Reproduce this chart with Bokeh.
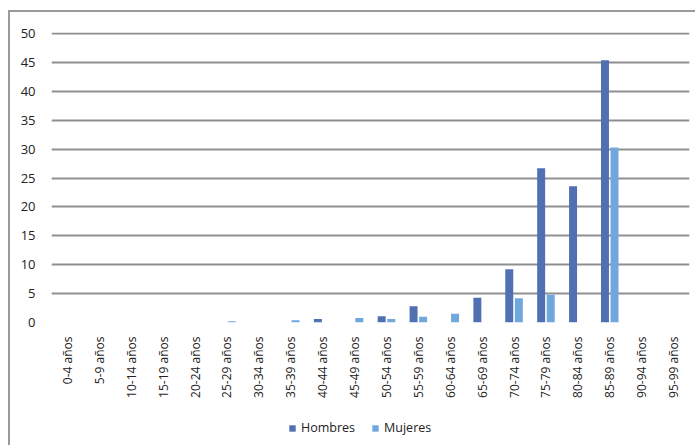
from bokeh.plotting import figure
from bokeh.models import ColumnDataSource, FactorRange, Range1d, Legend, LegendItem, FixedTicker
from bokeh.transform import dodge
from bokeh.layouts import column
from bokeh.embed import file_html
from bokeh.resources import INLINE

categories = ["0-4 años", "5-9 años", "10-14 años", "15-19 años", "20-24 años",
              "25-29 años", "30-34 años", "35-39 años", "40-44 años", "45-49 años",
              "50-54 años", "55-59 años", "60-64 años", "65-69 años", "70-74 años",
              "75-79 años", "80-84 años", "85-89 años", "90-94 años", "95-99 años"]
hombres = [0, 0, 0, 0, 0, 0, 0, 0, 0.6, 0, 1.1, 2.8, 0, 4.3, 9.2, 26.7, 23.6, 45.4, 0, 0]
mujeres = [0, 0, 0, 0, 0, 0.2, 0, 0.4, 0, 0.8, 0.6, 1.0, 1.5, 0, 4.2, 4.8, 0, 30.3, 0, 0]
y_ticks = [0, 5, 10, 15, 20, 25, 30, 35, 40, 45, 50]
series_names = ["Hombres", "Mujeres"]

FONT = "Open Sans"
C_H = "#5070B2"
C_M = "#70A8DE"

src = ColumnDataSource(dict(cat=categories, h=hombres, m=mujeres))

p = figure(x_range=FactorRange(*categories), y_range=Range1d(0, 50.2),
           width=685, height=388, output_backend="svg", toolbar_location=None,
           min_border_left=41, min_border_right=6, min_border_top=20, min_border_bottom=77)

p.vbar(x=dodge("cat", -0.15, range=p.x_range), top="h", width=0.25, source=src,
       color=C_H, line_color=None)
p.vbar(x=dodge("cat", 0.15, range=p.x_range), top="m", width=0.25, source=src,
       color=C_M, line_color=None)

p.outline_line_color = None
p.xgrid.grid_line_color = None
p.ygrid.grid_line_color = "#8f8f8f"
p.ygrid.grid_line_width = 2
p.yaxis.ticker = FixedTicker(ticks=y_ticks)
p.yaxis.axis_line_color = None
p.yaxis.major_tick_line_color = None
p.yaxis.minor_tick_line_color = None
p.yaxis.major_label_text_font = FONT
p.yaxis.major_label_text_font_size = "13px"
p.yaxis.major_label_text_color = "#222222"
p.yaxis.major_label_standoff = 10

p.xaxis.axis_line_color = None
p.xaxis.major_tick_line_color = None
p.xaxis.major_label_orientation = 3.14159265 / 2
p.xaxis.major_label_text_font = FONT
p.xaxis.major_label_text_font_size = "12px"
p.xaxis.major_label_text_color = "#222222"
p.xaxis.major_label_standoff = 8

# legend strip below the chart (zero-height proxy bars carry the legend swatches)
p2 = figure(x_range=FactorRange(*categories), y_range=Range1d(0, 1), width=685, height=45,
            output_backend="svg", toolbar_location=None,
            min_border_left=0, min_border_right=0, min_border_top=0, min_border_bottom=0)
p2.axis.visible = False
p2.grid.grid_line_color = None
p2.outline_line_color = None
proxy = ColumnDataSource(dict(cat=categories[:1], zero=[0]))
lh = p2.vbar(x="cat", top="zero", width=0.25, source=proxy, color=C_H, line_color=None)
lm = p2.vbar(x="cat", top="zero", width=0.25, source=proxy, color=C_M, line_color=None)
legend = Legend(items=[LegendItem(label=series_names[0], renderers=[lh]),
                       LegendItem(label=series_names[1], renderers=[lm])],
                orientation="horizontal", location=(237, 9),
                label_text_font=FONT, label_text_font_size="12.5px", label_text_color="#222222",
                glyph_width=8, glyph_height=8, spacing=16, label_standoff=5,
                border_line_color=None, background_fill_alpha=0, padding=0, margin=0)
p2.add_layout(legend)

layout = column(p, p2, spacing=0,
                styles={"border-left": "2px solid #9a9a9a", "border-top": "2px solid #9a9a9a",
                        "margin-left": "8px", "margin-top": "10px"})

open("out.html", "w").write(file_html(layout, INLINE))
